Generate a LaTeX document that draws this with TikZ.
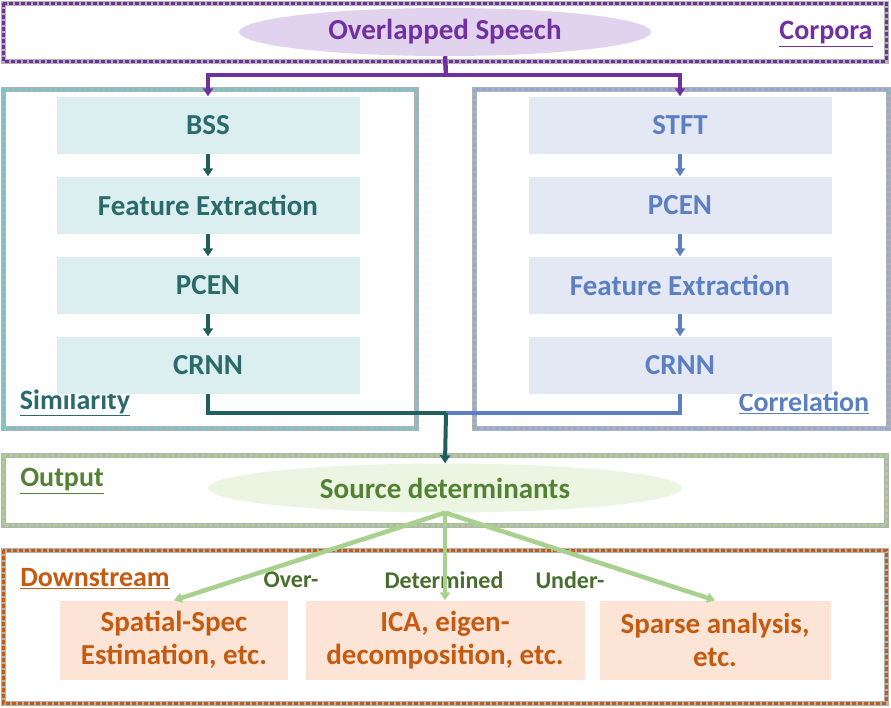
\documentclass[tikz,border=0pt]{standalone}
\usepackage{fontspec}
\setmainfont{Carlito}
\usetikzlibrary{shapes.geometric,arrows.meta}
\definecolor{corpora}{HTML}{7030A0}
\definecolor{corporafill}{HTML}{E1D3ED}
\definecolor{simtext}{HTML}{2A6A6A}
\definecolor{simline}{HTML}{1F5F5F}
\definecolor{simfill}{HTML}{DBEFF1}
\definecolor{simframe}{HTML}{6FC6CC}
\definecolor{cortext}{HTML}{5B7FC1}
\definecolor{corfill}{HTML}{E3E8F4}
\definecolor{corframe}{HTML}{8EA9DB}
\definecolor{outtext}{HTML}{548235}
\definecolor{outfill}{HTML}{EBF5E2}
\definecolor{outframe}{HTML}{A9D18E}
\definecolor{dstext}{HTML}{C55A11}
\definecolor{dsfill}{HTML}{FCE4D6}
\definecolor{dsframe}{HTML}{C55A11}
\tikzset{
  shadowframe/.style={draw=gray!60, line width=5pt},
  dotframe/.style={draw=#1, line width=3pt, dash pattern=on 4pt off 2pt},
  blob/.style={ellipse, inner sep=0pt, font=\fontsize{29}{34}\selectfont\bfseries},
  stepbox/.style={rectangle, inner sep=0pt, minimum width=303pt, minimum height=57pt, font=\fontsize{29}{34}\selectfont\bfseries},
  taskbox/.style={rectangle, inner sep=0pt, minimum height=79pt, align=center, fill=dsfill, text=dstext, font=\fontsize{29}{33}\selectfont\bfseries},
  tag/.style={inner sep=0pt, font=\fontsize{28}{32}\selectfont\bfseries},
  branch/.style={inner sep=0pt, text=outtext!85!black, font=\fontsize{24}{28}\selectfont\bfseries},
  tip/.style={-{Triangle[length=8pt,width=10pt]}}
}
\begin{document}
\begin{tikzpicture}[x=1pt, y=-1pt]
  \useasboundingbox[fill=white] (0,0) rectangle (891,707);
  \draw[shadowframe] (3,3) rectangle (886,61);
  \draw[dotframe=corpora] (3,3) rectangle (886,61);
  \draw[shadowframe] (3,89) rectangle (416,428);
  \draw[dotframe=simframe] (3,89) rectangle (416,428);
  \draw[shadowframe] (474,89) rectangle (888,428);
  \draw[dotframe=corframe] (474,89) rectangle (888,428);
  \draw[shadowframe] (3,455) rectangle (886,525);
  \draw[dotframe=outframe] (3,455) rectangle (886,525);
  \draw[shadowframe] (3,550) rectangle (886,703);
  \draw[dotframe=dsframe] (3,550) rectangle (886,703);
  \node[tag, text=corpora] (corporaTag) at (826,34) {\underline{Corpora}};
  \node[tag, text=simtext] (similarityTag) at (75,403) {\underline{Similarity}};
  \node[tag, text=cortext] (correlationTag) at (804,403) {\underline{Correlation}};
  \node[tag, text=outtext] (outputTag) at (62,481) {\underline{Output}};
  \node[tag, text=dstext] (downstreamTag) at (95,579) {\underline{Downstream}};
  \node[blob, fill=corporafill, text=corpora, minimum width=412pt, minimum height=48pt] (speech) at (445,32) {Overlapped Speech};
  \node[stepbox, fill=simfill, text=simtext] (bss) at (208,125) {BSS};
  \node[stepbox, fill=simfill, text=simtext] (featL) at (208,205) {Feature Extraction};
  \node[stepbox, fill=simfill, text=simtext] (pcenL) at (208,285) {PCEN};
  \node[stepbox, fill=simfill, text=simtext] (crnnL) at (208,365) {CRNN};
  \node[stepbox, fill=corfill, text=cortext] (stft) at (680,125) {STFT};
  \node[stepbox, fill=corfill, text=cortext] (pcenR) at (680,205) {PCEN};
  \node[stepbox, fill=corfill, text=cortext] (featR) at (680,285) {Feature Extraction};
  \node[stepbox, fill=corfill, text=cortext] (crnnR) at (680,365) {CRNN};
  \node[blob, fill=outfill, text=outtext, minimum width=474pt, minimum height=49pt] (source) at (445,488) {Source determinants};
  \node[taskbox, minimum width=228pt] (spatial) at (174,640) {Spatial-Spec\\Estimation, etc.};
  \node[taskbox, minimum width=279pt] (ica) at (445,640) {ICA, eigen-\\decomposition, etc.};
  \node[taskbox, minimum width=231pt] (sparse) at (715,640) {Sparse analysis,\\etc.};
  \node[branch] (over) at (291,580) {Over-};
  \node[branch] (determined) at (444,580) {Determined};
  \node[branch] (under) at (570,580) {Under-};
  \coordinate (split) at (446,75);
  \coordinate (merge) at (446,413);
  \draw[corpora, line width=4.5pt] (speech.south) -- (split);
  \draw[corpora, line width=4.5pt, tip] (split) -| (bss.north);
  \draw[corpora, line width=4.5pt, tip] (split) -| (stft.north);
  \draw[simline, line width=4pt, tip] (bss) -- (featL);
  \draw[simline, line width=4pt, tip] (featL) -- (pcenL);
  \draw[simline, line width=4pt, tip] (pcenL) -- (crnnL);
  \draw[cortext, line width=4pt, tip] (stft) -- (pcenR);
  \draw[cortext, line width=4pt, tip] (pcenR) -- (featR);
  \draw[cortext, line width=4pt, tip] (featR) -- (crnnR);
  \draw[simline, line width=4.5pt] (crnnL.south) |- (merge);
  \draw[cortext, line width=4.5pt] (crnnR.south) |- (merge);
  \draw[simline, line width=4pt, tip] (merge) -- (source.north);
  \draw[outframe, line width=4.5pt, tip] (source.south) -- (spatial.north);
  \draw[outframe, line width=4.5pt, tip] (source.south) -- (ica.north);
  \draw[outframe, line width=4.5pt, tip] (source.south) -- (sparse.north);
\end{tikzpicture}
\end{document}
